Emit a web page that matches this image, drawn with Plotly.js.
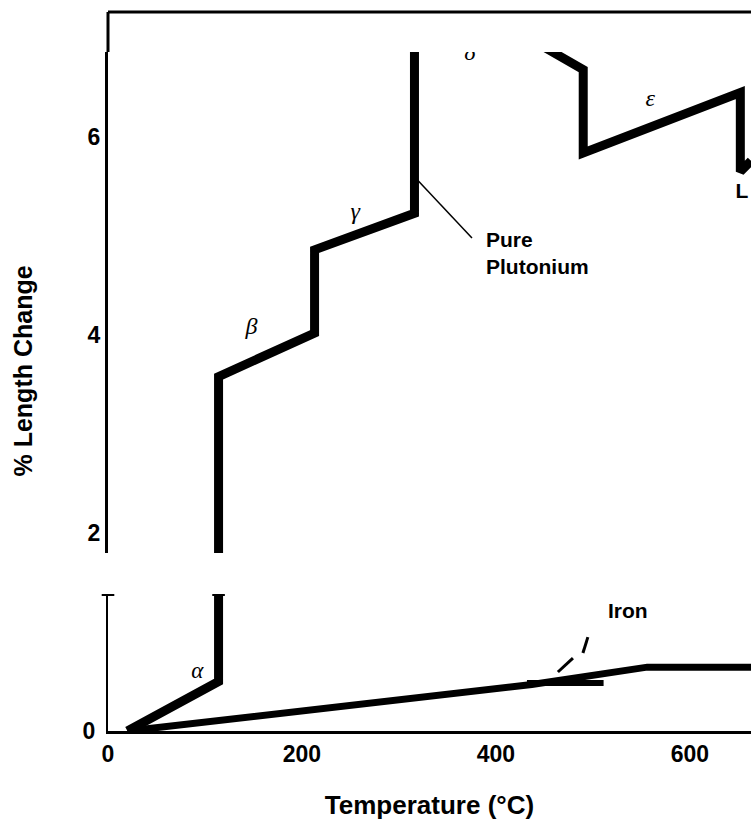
<!DOCTYPE html>
<html><head><meta charset="utf-8">
<script src="https://cdn.plot.ly/plotly-3.0.1.min.js"></script>
<style>html,body{margin:0;padding:0;background:#fff;}#chart{width:751px;height:821px;}</style>
</head><body><div id="chart"></div>
<script>
// Pure plutonium: temperature (°C) vs % length change
const puTemp = [20, 114, 114, 213, 213, 316, 316, 437, 490, 490, 652, 652, 663];
const puLen  = [0, 0.50, 3.58, 4.02, 4.86, 5.23, 6.98, 6.98, 6.68, 5.84, 6.45, 5.65, 5.76];
// Iron
const feTemp = [20, 437, 556, 663];
const feLen  = [0, 0.47, 0.645, 0.645];
// short horizontal bar on the iron curve
const barTemp = [432, 511];
const barLen  = [0.485, 0.485];

// tick labels
const xTicks = [0, 200, 400, 600];
const yTicksUpper = [2, 4, 6];
const yTicksLower = [0];

// phase labels
const upperPhase = ['β', 'γ', 'δ', 'ε'];
const upperPhaseT = [148, 255, 373, 559];
const upperPhaseL = [4.07, 5.23, 6.84, 6.37];
const lowerPhase = ['α'];
const lowerPhaseT = [92];
const lowerPhaseL = [0.59];

// axis windows (broken axis)
const lowerRange = [0, 1.374];
const upperRange = [1.798, 6.859];
const xRange = [0, 663];

const SANS = 'Liberation Sans, Arial, sans-serif';
const SERIF = 'Liberation Serif, Times New Roman, serif';

const traces = [
  {x: puTemp, y: puLen, xaxis: 'x', yaxis: 'y', mode: 'lines', line: {color: '#000', width: 9}, hoverinfo: 'skip'},
  {x: puTemp, y: puLen, xaxis: 'x', yaxis: 'y2', mode: 'lines', line: {color: '#000', width: 9}, hoverinfo: 'skip'},
  {x: feTemp, y: feLen, xaxis: 'x', yaxis: 'y', mode: 'lines', line: {color: '#000', width: 7}, hoverinfo: 'skip'},
  {x: barTemp, y: barLen, xaxis: 'x', yaxis: 'y', mode: 'lines', line: {color: '#000', width: 6}, hoverinfo: 'skip'},
  // break marks at top of the lower window
  {x: [xRange[0], puTemp[1]], y: [lowerRange[1], lowerRange[1]], xaxis: 'x', yaxis: 'y', mode: 'markers',
   marker: {symbol: 'line-ew', size: 9, line: {color: '#000', width: 2}}, cliponaxis: false, hoverinfo: 'skip'},
  {x: upperPhaseT, y: upperPhaseL, text: upperPhase, xaxis: 'x', yaxis: 'y2', mode: 'text', cliponaxis: true,
   textfont: {family: SERIF, size: 24, style: 'italic', color: '#000'}, hoverinfo: 'skip'},
  {x: lowerPhaseT, y: lowerPhaseL, text: lowerPhase, xaxis: 'x', yaxis: 'y', mode: 'text', cliponaxis: true,
   textfont: {family: SERIF, size: 23, style: 'italic', color: '#000'}, hoverinfo: 'skip'},
  {x: [647], y: [5.44], text: ['L'], xaxis: 'x', yaxis: 'y2', mode: 'text', textposition: 'middle right', cliponaxis: true,
   textfont: {family: SANS, size: 21, weight: 'bold', color: '#000'}, hoverinfo: 'skip'}
];

const tickFont = {family: SANS, size: 23, color: '#000', weight: 'bold'};

const layout = {
  width: 751, height: 821,
  margin: {l: 108, r: 0, t: 12, b: 90},
  paper_bgcolor: '#fff', plot_bgcolor: '#fff',
  showlegend: false,
  xaxis: {
    range: xRange, tickvals: xTicks, ticktext: xTicks.map(String), showgrid: false, zeroline: false,
    showline: true, linecolor: '#000', linewidth: 3, ticks: '', tickfont: tickFont, ticklabelstandoff: 0,
    title: {text: 'Temperature (°C)', font: {family: SANS, size: 26, color: '#000', weight: 'bold'}, standoff: 31},
    anchor: 'y'
  },
  yaxis: {
    domain: [0, 136/719], range: lowerRange, tickvals: yTicksLower, ticktext: yTicksLower.map(String),
    showgrid: false, zeroline: false, showline: true, linecolor: '#000', linewidth: 2, ticks: '',
    tickfont: tickFont, ticklabelstandoff: 6
  },
  yaxis2: {
    domain: [178/719, 679/719], range: upperRange, tickvals: yTicksUpper, ticktext: yTicksUpper.map(String),
    showgrid: false, zeroline: false, showline: true, linecolor: '#000', linewidth: 3, ticks: '',
    tickfont: tickFont, ticklabelstandoff: 0, anchor: 'x'
  },
  annotations: [
    {text: 'Pure<br>Plutonium', x: 388, y: 4.83, xref: 'x', yref: 'y2', xanchor: 'left', yanchor: 'middle', align: 'left',
     showarrow: false, font: {family: SANS, size: 21, color: '#000', weight: 'bold'}},
    {text: 'Iron', x: 514, y: 1.22, xref: 'x', yref: 'y', xanchor: 'left', yanchor: 'middle',
     showarrow: false, font: {family: SANS, size: 21, color: '#000', weight: 'bold'}},
    {text: '% Length Change', textangle: -90, x: -86/643, y: 0.5, xref: 'paper', yref: 'paper', xanchor: 'center', yanchor: 'middle',
     showarrow: false, font: {family: SANS, size: 25, color: '#000', weight: 'bold'}}
  ],
  shapes: [
    // frame: top line and upper extension of the left axis
    {type: 'line', xref: 'paper', yref: 'paper', x0: 0, x1: 1, y0: 1, y1: 1, line: {color: '#000', width: 3}},
    {type: 'line', xref: 'paper', yref: 'paper', x0: 0, x1: 0, y0: 679/719, y1: 1, line: {color: '#000', width: 3}},
    // pointer to the plutonium curve
    {type: 'line', xref: 'x', yref: 'y2', x0: 318.6, y0: 5.57, x1: 375.3, y1: 4.98, line: {color: '#000', width: 1.5}},
    // pointer to the iron curve (two strokes)
    {type: 'line', xref: 'x', yref: 'y', x0: 463.9, y0: 0.596, x1: 479.4, y1: 0.737, line: {color: '#000', width: 3}},
    {type: 'line', xref: 'x', yref: 'y', x0: 489.7, y0: 0.788, x1: 494.8, y1: 0.949, line: {color: '#000', width: 3}}
  ]
};

Plotly.newPlot('chart', traces, layout, {displayModeBar: false, staticPlot: true});
</script>
</body></html>
